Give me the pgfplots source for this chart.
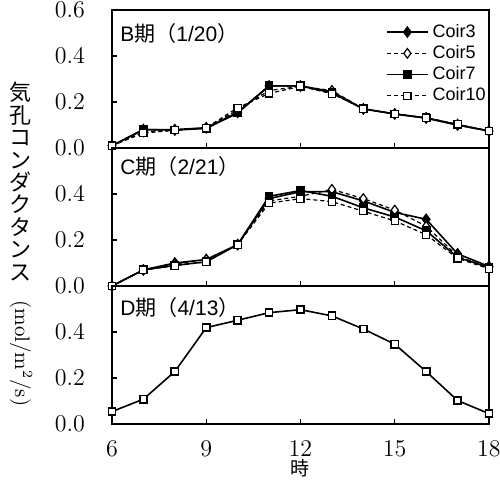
\documentclass[border=0pt]{standalone}
\usepackage{pgfplots}
\pgfplotsset{compat=1.18}
\usepackage{graphicx}
\usepackage{fontspec}
\setsansfont{Liberation Sans}
\newfontfamily\cjk{Noto Sans CJK JP}
\begin{document}
\begin{tikzpicture}
\useasboundingbox (-56pt,-36.5pt) rectangle (194pt,212pt);
\pgfplotsset{
  panel/.style={
    scale only axis, width=188.5pt, height=69pt,
    xmin=6, xmax=18, ymin=0, ymax=0.6,
    xtick={6,9,12,15,18},
    tick pos=left, tick align=inside,
    major tick length=2.5pt,
    axis line style={line width=0.75pt},
    tick style={line width=0.6pt, black},
    clip=false,
    ticklabel style={font=\fontsize{12}{14}\selectfont},
    yticklabel style={xshift=-10pt, /pgf/number format/fixed, /pgf/number format/fixed zerofill, /pgf/number format/precision=1},
    xticklabel style={inner sep=0pt, yshift=-8.5pt},
  },
  s3/.style={black, line width=0.8pt, mark=diamond*, mark size=2.4pt, mark options={solid, fill=black}},
  s5/.style={black, line width=0.6pt, dash pattern=on 2pt off 1.5pt, mark=diamond*, mark size=2.4pt, mark options={solid, fill=white}},
  s7/.style={black, line width=0.8pt, mark=square*, mark size=1.8pt, mark options={solid, fill=black}},
  s10/.style={black, line width=0.6pt, dash pattern=on 2pt off 1.5pt, mark=square*, mark size=1.8pt, mark options={solid, fill=white}},
}
% Top panel B
\begin{axis}[panel, at={(0,138pt)}, anchor=south west,
  ytick={0,0.2,0.4,0.6}, xticklabels={},
  legend style={at={(rel axis cs:0.726,0.93)}, anchor=north west, draw=none, fill=none,
    font=\sffamily\fontsize{9}{10}\selectfont, row sep=-1.4pt, inner sep=0pt},
  legend cell align=left,
  legend image code/.code={\draw[mark repeat=2,mark phase=2,#1] plot coordinates {(0cm,0cm) (0.36cm,0cm) (0.72cm,0cm)};},
]
\addplot[s3] coordinates {(6,0.01)(7,0.08)(8,0.08)(9,0.088)(10,0.155)(11,0.27)(12,0.27)(13,0.245)(14,0.17)(15,0.148)(16,0.13)(17,0.10)(18,0.074)};
\addplot[s5] coordinates {(6,0.01)(7,0.07)(8,0.077)(9,0.088)(10,0.165)(11,0.25)(12,0.268)(13,0.25)(14,0.17)(15,0.148)(16,0.132)(17,0.103)(18,0.074)};
\addplot[s7] coordinates {(6,0.01)(7,0.08)(8,0.078)(9,0.085)(10,0.152)(11,0.27)(12,0.27)(13,0.24)(14,0.17)(15,0.148)(16,0.13)(17,0.10)(18,0.074)};
\addplot[s10] coordinates {(6,0.01)(7,0.065)(8,0.077)(9,0.088)(10,0.175)(11,0.237)(12,0.268)(13,0.236)(14,0.171)(15,0.148)(16,0.132)(17,0.103)(18,0.074)};
\legend{Coir3,Coir5,Coir7,Coir10}
\node[anchor=west, inner sep=0pt, font=\fontsize{10.5}{12}\selectfont] at ([xshift=4pt,yshift=-12pt]rel axis cs:0,1) {{\sffamily B}{\cjk 期（}{\sffamily 1/20}{\cjk ）}};
\end{axis}
% Middle panel C
\begin{axis}[panel, at={(0,69pt)}, anchor=south west,
  ytick={0,0.2,0.4}, xticklabels={}]
\addplot[s3] coordinates {(6,0)(7,0.07)(8,0.10)(9,0.115)(10,0.18)(11,0.38)(12,0.41)(13,0.41)(14,0.37)(15,0.32)(16,0.29)(17,0.14)(18,0.085)};
\addplot[s5] coordinates {(6,0)(7,0.07)(8,0.095)(9,0.115)(10,0.18)(11,0.37)(12,0.39)(13,0.42)(14,0.38)(15,0.33)(16,0.26)(17,0.13)(18,0.08)};
\addplot[s7] coordinates {(6,0)(7,0.07)(8,0.09)(9,0.105)(10,0.18)(11,0.39)(12,0.415)(13,0.39)(14,0.34)(15,0.30)(16,0.24)(17,0.125)(18,0.08)};
\addplot[s10] coordinates {(6,0)(7,0.069)(8,0.088)(9,0.105)(10,0.18)(11,0.36)(12,0.38)(13,0.367)(14,0.325)(15,0.283)(16,0.223)(17,0.12)(18,0.075)};
\node[anchor=west, inner sep=0pt, font=\fontsize{10.5}{12}\selectfont] at ([xshift=4pt,yshift=-9.5pt]rel axis cs:0,1) {{\sffamily C}{\cjk 期（}{\sffamily 2/21}{\cjk ）}};
\end{axis}
% Bottom panel D
\begin{axis}[panel, at={(0,0)}, anchor=south west,
  ytick={0,0.2,0.4}]
\addplot[black, line width=0.8pt, mark=square*, mark size=1.8pt, mark options={solid, fill=white}] coordinates {(6,0.054)(7,0.108)(8,0.228)(9,0.419)(10,0.451)(11,0.484)(12,0.497)(13,0.47)(14,0.413)(15,0.347)(16,0.228)(17,0.102)(18,0.045)};
\node[anchor=west, inner sep=0pt, font=\fontsize{10.5}{12}\selectfont] at ([xshift=4pt,yshift=-11pt]rel axis cs:0,1) {{\sffamily D}{\cjk 期（}{\sffamily 4/13}{\cjk ）}};
\node[inner sep=0pt, font=\cjk\fontsize{9.5}{10}\selectfont] at ([yshift=-22pt]rel axis cs:0.5,0) {時};
\end{axis}
\node[align=center, anchor=north, inner sep=0pt, font=\cjk\fontsize{11}{11.2}\selectfont] at (-45.5pt,171pt)
  {気\\孔\\コ\\ン\\ダ\\ク\\タ\\ン\\ス};
\node[rotate=-90, anchor=west, inner sep=0pt, font=\fontsize{10.5}{12}\selectfont] at (-45.5pt,62pt)
  {(mol/m$^{2}$/s)};
\end{tikzpicture}
\end{document}
